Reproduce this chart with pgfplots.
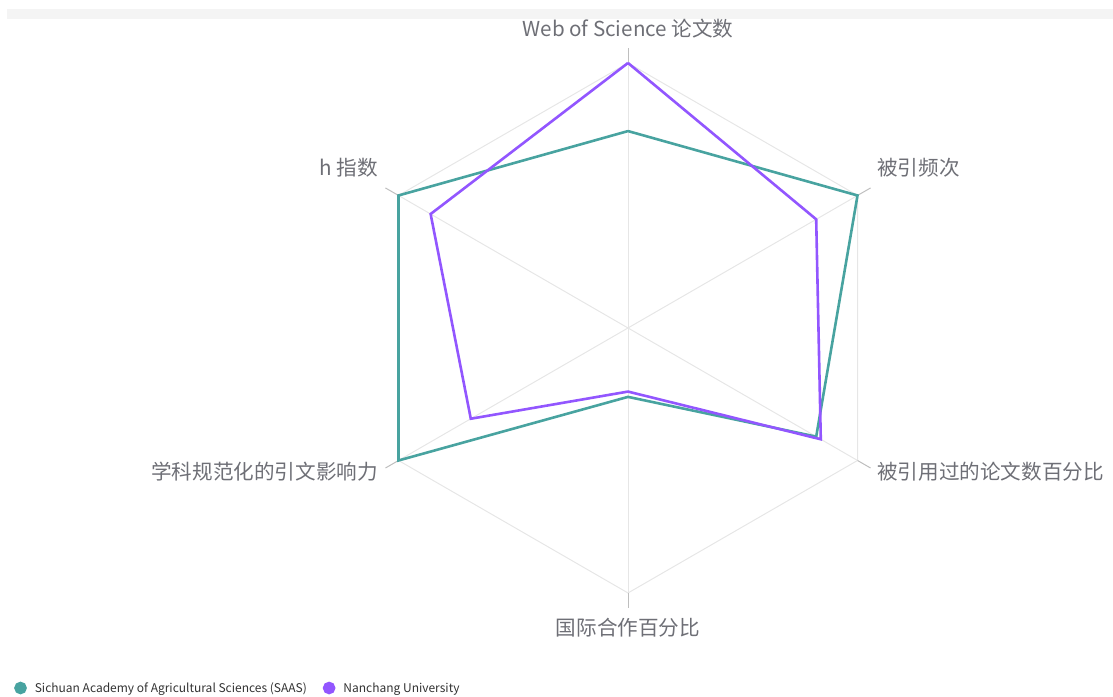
\documentclass[border=0pt]{standalone}
\usepackage{fontspec}
\setmainfont{Noto Sans CJK SC}
\usepackage{pgfplots}
\pgfplotsset{compat=1.18}

\definecolor{saas}{RGB}{72,163,160}
\definecolor{ncu}{RGB}{146,86,255}
\definecolor{gridgray}{RGB}{230,230,230}
\definecolor{tickgray}{RGB}{190,190,190}
\definecolor{labelgray}{RGB}{110,111,118}
\definecolor{bandgray}{RGB}{244,244,244}

\begin{document}
\begin{tikzpicture}[x=1bp,y=1bp]
\useasboundingbox (0,0) rectangle (1113,697);
\fill[bandgray] (7,678) rectangle (1113,688);

% pixel (px,py) -> axis: x=(px-628)/265, y=(328-py)/265
\begin{axis}[
    at={(0,0)}, anchor=south west,
    x=265bp, y=265bp,
    xmin=-2.3698, xmax=1.8302,
    ymin=-1.3925, ymax=1.2377,
    hide axis, clip=false,
    legend columns=2,
    legend style={at={(axis description cs:0.0126,0.0129)}, anchor=west,
        draw=none, fill=none, font=\fontsize{12bp}{14bp}\selectfont,
        text=black!80, column sep=6bp, inner sep=0pt,
        /tikz/every even column/.append style={column sep=14bp}},
    legend image code/.code={\fill (3bp,0bp) circle (5bp);},
]
% grid: outer hexagon and spokes
\addplot[gridgray, line width=1bp, data cs=polar, forget plot] coordinates
    {(90,1) (30,1) (-30,1) (-90,1) (-150,1) (150,1) (90,1)};
\foreach \a in {90,30,-30,-90,-150,150} {
  \addplot[gridgray, line width=1bp, data cs=polar, forget plot] coordinates {(\a,0) (\a,1)};
  \addplot[tickgray, line width=1bp, data cs=polar, forget plot] coordinates {(\a,1) (\a,1.057)};
}

\addplot[saas, line width=2.6bp, data cs=polar] coordinates
    {(90,0.743) (30,1) (-30,0.82) (-90,0.26) (-150,1) (150,1) (90,0.743)};
\addlegendentry{Sichuan Academy of Agricultural Sciences (SAAS)}
\addplot[ncu, line width=2.6bp, data cs=polar] coordinates
    {(90,1) (30,0.82) (-30,0.84) (-90,0.24) (-150,0.685) (150,0.86) (90,1)};
\addlegendentry{Nanchang University}

\begin{scope}[every node/.style={text=labelgray, font=\fontsize{20.6bp}{24bp}\selectfont, inner sep=0pt}]
\node[anchor=center] at (axis cs:0,1.1283) {Web of Science 论文数};
\node[anchor=west] at (axis cs:0.9396,0.6038) {被引频次};
\node[anchor=west] at (axis cs:0.9396,-0.5434) {被引用过的论文数百分比};
\node[anchor=center] at (axis cs:0,-1.1321) {国际合作百分比};
\node[anchor=east] at (axis cs:-0.9434,-0.5434) {学科规范化的引文影响力};
\node[anchor=east] at (axis cs:-0.9434,0.6038) {h 指数};
\end{scope}
\end{axis}
\end{tikzpicture}
\end{document}
